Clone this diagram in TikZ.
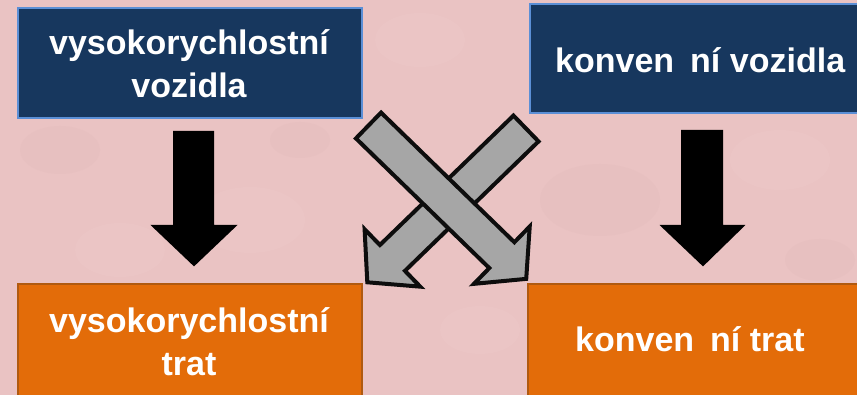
\documentclass[tikz,border=0pt]{standalone}
\usepackage{fontspec}
\setmainfont{Liberation Sans}
\definecolor{bgpink}{HTML}{EAC3C3}
\definecolor{bgdark}{HTML}{D9AFAF}
\definecolor{bglight}{HTML}{F2D2D2}
\definecolor{navyfill}{HTML}{17375E}
\definecolor{navyedge}{HTML}{5B8FD6}
\definecolor{orangefill}{HTML}{E36C09}
\definecolor{orangeedge}{HTML}{B05A10}
\definecolor{arrowgray}{HTML}{A6A6A6}
\tikzset{
  navybox/.style={rectangle, fill=navyfill, draw=navyedge, line width=2pt, inner sep=0pt},
  orangebox/.style={rectangle, fill=orangefill, draw=orangeedge, line width=1.5pt, inner sep=0pt},
  boxtext/.style={text=white, font=\bfseries\fontsize{34}{43}\selectfont, align=center, inner sep=0pt},
  downarrow/.style={fill=black, draw=black, line width=2pt, line join=miter},
  crossarrow/.style={fill=arrowgray, draw=black!95, line width=4pt, line join=miter}
}
\begin{document}
\begin{tikzpicture}[x=1pt, y=-1pt]
\useasboundingbox (0,0) rectangle (857,395);
\clip (0,0) rectangle (857,395);
% marbled pink backdrop
\fill[bgpink] (0,0) rectangle (857,395);
\foreach \cx/\cy/\r/\c in {60/150/40/bgdark, 250/220/55/bglight, 420/40/45/bglight, 600/200/60/bgdark, 780/160/50/bglight, 300/140/30/bgdark, 480/330/40/bglight, 120/250/45/bglight, 820/260/35/bgdark}
  \fill[\c, opacity=0.15] (\cx,\cy) ellipse [x radius=\r pt, y radius=0.6*\r pt];

% boxes
\node[navybox, minimum width=344pt, minimum height=110pt] (fastveh) at (190,63) {};
\node[navybox, minimum width=343pt, minimum height=109pt] (convveh) at (701.5,58.5) {};
\node[orangebox, minimum width=344pt, minimum height=130pt] (fasttrack) at (190,349) {};
\node[orangebox, minimum width=345pt, minimum height=130pt] (convtrack) at (700.5,349) {};

% box labels (base anchor sits on the last line)
\node[boxtext, anchor=base] (fastvehtxt) at (189,98) {vysokorychlostní\\vozidla};
\node[boxtext, anchor=base west] (convvehtxt) at (555,73) {konven\hspace{16pt}ní vozidla};
\node[boxtext, anchor=base] (fasttracktxt) at (189,375) {vysokorychlostní\\trat};
\node[boxtext, anchor=base west] (convtracktxt) at (575,352) {konven\hspace{16pt}ní trat};

% straight block arrows
\draw[downarrow] (174,132) -- (213,132) -- (213,226) -- (235,226) -- (194,265)
  -- (153,226) -- (174,226) -- cycle;
\draw[downarrow] (682,131) -- (722,131) -- (722,226) -- (743,226) -- (703,265)
  -- (662,226) -- (682,226) -- cycle;

% crossed block arrows
\begin{scope}[shift={(526,128.5)}, rotate=-135.9]
  \draw[crossarrow] (0,-18) -- (186,-18) -- (186,-40) -- (221,0) -- (186,40)
    -- (186,18) -- (0,18) -- cycle;
\end{scope}
\begin{scope}[shift={(368.5,125.5)}, rotate=-44.2]
  \draw[crossarrow] (0,-18) -- (186,-18) -- (186,-40) -- (220,0) -- (186,40)
    -- (186,18) -- (0,18) -- cycle;
\end{scope}
\end{tikzpicture}
\end{document}
